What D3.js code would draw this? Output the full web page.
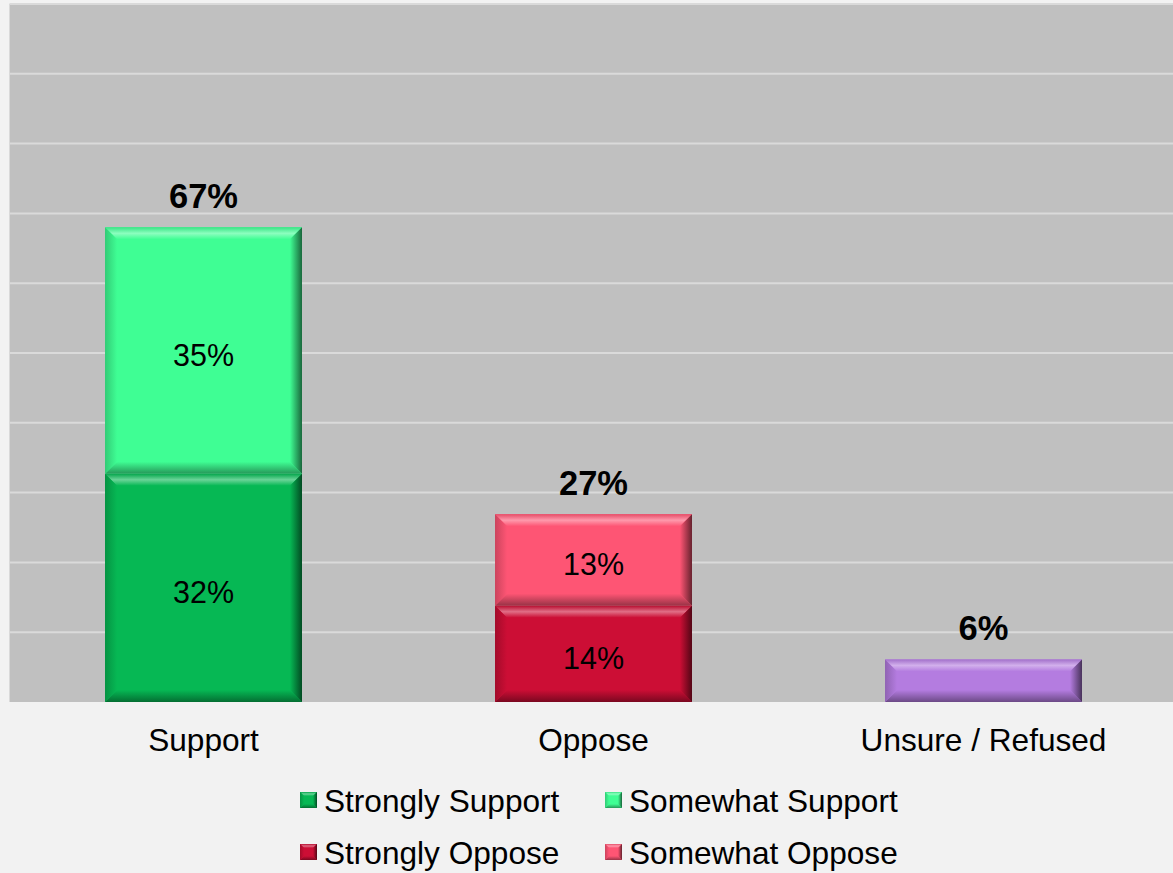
<!DOCTYPE html>
<html><head><meta charset="utf-8">
<script src="https://cdn.jsdelivr.net/npm/d3@7"></script>
<style>
html,body{margin:0;padding:0;background:#f2f2f2;}
svg{display:block;}
text{font-family:Arial,"Liberation Sans",Helvetica,sans-serif;}
</style></head>
<body>
<svg id="chart" width="1173" height="873"></svg>
<script>
// ---- data ----
const categories = ["Support", "Oppose", "Unsure / Refused"];
const seriesNames = ["Strongly Support", "Somewhat Support", "Strongly Oppose", "Somewhat Oppose", "Unsure / Refused"];
const stronglySupport = [32.7, 0, 0];
const somewhatSupport = [35.3, 0, 0];
const stronglyOppose  = [0, 13.8, 0];
const somewhatOppose  = [0, 13.1, 0];
const unsureRefused   = [0, 0, 6.1];
const stronglySupportLabels = ["32%", "", ""];
const somewhatSupportLabels = ["35%", "", ""];
const stronglyOpposeLabels  = ["", "14%", ""];
const somewhatOpposeLabels  = ["", "13%", ""];
const unsureLabels          = ["", "", ""];
const totalLabels = ["67%", "27%", "6%"];
const yTicks = [0, 10, 20, 30, 40, 50, 60, 70, 80, 90, 100];
const legendNames = ["Strongly Support", "Somewhat Support", "Strongly Oppose", "Somewhat Oppose"];

const seriesValues = [stronglySupport, somewhatSupport, stronglyOppose, somewhatOppose, unsureRefused];
const seriesLabels = [stronglySupportLabels, somewhatSupportLabels, stronglyOpposeLabels, somewhatOpposeLabels, unsureLabels];
const colors = ["#06b854", "#3ffe94", "#cc0e35", "#fe5574", "#b47ce0"];

const table = categories.map((c, i) => {
  const row = {category: c};
  seriesNames.forEach((s, k) => row[s] = seriesValues[k][i]);
  return row;
});

// ---- layout ----
const W = 1173, H = 873;
const plot = {left: 9.5, right: 1173, top: 4, bottom: 702};
const svg = d3.select("#chart");
const defs = svg.append("defs");

svg.append("rect").attr("width", W).attr("height", H).attr("fill", "#f2f2f2");

const x = d3.scaleBand().domain(categories).range([8.5, 1178.5]).paddingInner(0.495).paddingOuter(0.2475);
const y = d3.scaleLinear().domain([0, 100]).range([plot.bottom, plot.top]);

svg.append("rect")
  .attr("x", plot.left).attr("y", plot.top)
  .attr("width", plot.right - plot.left).attr("height", plot.bottom - plot.top)
  .attr("fill", "#c0c0c0");

// gridlines
svg.append("g").selectAll("line").data(yTicks.filter(t => t > 0)).join("line")
  .attr("x1", plot.left).attr("x2", plot.right)
  .attr("y1", d => y(d)).attr("y2", d => y(d))
  .attr("stroke", "#dadada").attr("stroke-width", 2);

// gradients per series
colors.forEach((c, k) => {
  const light = d3.interpolateRgb(c, "#ffffff")(0.4);
  const dark = d3.interpolateRgb(c, "#000000")(0.6);
  const dark2 = d3.interpolateRgb(c, "#000000")(0.4);
  const gt = defs.append("linearGradient").attr("id", "gt" + k).attr("x1", 0).attr("y1", 0).attr("x2", 0).attr("y2", 1);
  gt.append("stop").attr("offset", "0%").attr("stop-color", d3.interpolateRgb(c, "#000")(0.1));
  gt.append("stop").attr("offset", "50%").attr("stop-color", light);
  gt.append("stop").attr("offset", "100%").attr("stop-color", c);
  const gr = defs.append("linearGradient").attr("id", "gr" + k).attr("x1", 0).attr("y1", 0).attr("x2", 1).attr("y2", 0);
  gr.append("stop").attr("offset", "0%").attr("stop-color", c);
  gr.append("stop").attr("offset", "100%").attr("stop-color", dark);
  const gb = defs.append("linearGradient").attr("id", "gb" + k).attr("x1", 0).attr("y1", 0).attr("x2", 0).attr("y2", 1);
  gb.append("stop").attr("offset", "0%").attr("stop-color", c);
  gb.append("stop").attr("offset", "100%").attr("stop-color", dark2);
  const gl = defs.append("linearGradient").attr("id", "gl" + k).attr("x1", 0).attr("y1", 0).attr("x2", 1).attr("y2", 0);
  gl.append("stop").attr("offset", "0%").attr("stop-color", d3.interpolateRgb(c, "#000")(0.2));
  gl.append("stop").attr("offset", "100%").attr("stop-color", c);
});

function bevelBox(g, x0, y0, w, h, k, b) {
  const x1 = x0 + w, y1 = y0 + h;
  const bb = Math.min(b, h / 2, w / 2);
  g.append("rect").attr("x", x0).attr("y", y0).attr("width", w).attr("height", h).attr("fill", colors[k]);
  const poly = (pts, fill) => g.append("polygon").attr("points", pts.map(p => p.join(",")).join(" ")).attr("fill", fill);
  poly([[x0, y0], [x1, y0], [x1 - bb, y0 + bb], [x0 + bb, y0 + bb]], `url(#gt${k})`);
  poly([[x0, y1], [x1, y1], [x1 - bb, y1 - bb], [x0 + bb, y1 - bb]], `url(#gb${k})`);
  poly([[x0, y0], [x0 + bb, y0 + bb], [x0 + bb, y1 - bb], [x0, y1]], `url(#gl${k})`);
  poly([[x1, y0], [x1 - bb, y0 + bb], [x1 - bb, y1 - bb], [x1, y1]], `url(#gr${k})`);
}

const stack = d3.stack().keys(seriesNames);
const stacked = stack(table);

const barsG = svg.append("g");
stacked.forEach((layer, k) => {
  layer.forEach((d, i) => {
    if (d[1] - d[0] <= 0) return;
    const x0 = x(d.data.category), w = x.bandwidth();
    const yTop = y(d[1]), yBot = y(d[0]);
    bevelBox(barsG, x0, yTop, w, yBot - yTop, k, 12);
    const lab = seriesLabels[k][i];
    if (lab) {
      barsG.append("text")
        .attr("x", x0 + w / 2).attr("y", (yTop + yBot) / 2 + 15)
        .attr("text-anchor", "middle").attr("font-size", 30.5).attr("fill", "#000")
        .text(lab);
    }
  });
});

// totals
const totals = table.map(r => d3.sum(seriesNames, s => r[s]));
svg.append("g").selectAll("text").data(categories).join("text")
  .attr("x", d => x(d) + x.bandwidth() / 2)
  .attr("y", (d, i) => y(totals[i]) - 19)
  .attr("text-anchor", "middle").attr("font-size", 34.5).attr("font-weight", "bold").attr("fill", "#000")
  .text((d, i) => totalLabels[i]);

// x axis
const xAxis = svg.append("g").attr("transform", `translate(0,${plot.bottom})`)
  .call(d3.axisBottom(x).tickSize(0).tickPadding(0));
xAxis.select(".domain").remove();
xAxis.selectAll("text").attr("font-size", 31.6).attr("fill", "#000")
  .attr("font-family", "Arial, 'Liberation Sans', sans-serif")
  .attr("dy", null).attr("y", 49);

// legend
const legendPos = [[300, 800], [605, 800], [300, 852], [605, 852]];
const legG = svg.append("g");
legendNames.forEach((n, k) => {
  const [lx, ly] = legendPos[k];
  bevelBox(legG, lx, ly - 8, 17, 16, k, 4);
  legG.append("text").attr("x", lx + 24).attr("y", ly + 11.5)
    .attr("font-size", 31.6).attr("fill", "#000").text(n);
});
</script>
</body></html>
